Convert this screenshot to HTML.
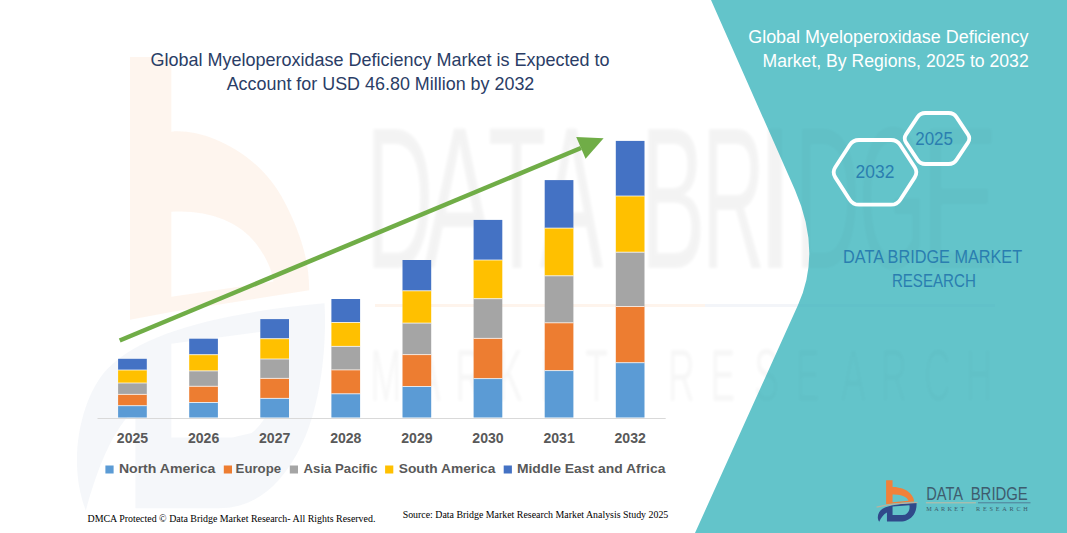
<!DOCTYPE html>
<html>
<head>
<meta charset="utf-8">
<style>
html,body{margin:0;padding:0;background:#fff;width:1067px;height:533px;overflow:hidden;}
svg{display:block;}
text{font-family:"Liberation Sans",sans-serif;}
.serif{font-family:"Liberation Serif",serif;}
</style>
</head>
<body>
<svg width="1067" height="533" viewBox="0 0 1067 533">
<defs>
<path id="lgOr" fill-rule="evenodd" d="M0,0 H6.46 V6.86 C11,6.5 20,8.5 24.15,13.3 C26.5,16 28,18.5 28,21.4 L6.46,23.4 L0,24.1 Z M6.46,14.2 C12,14 17,15 19.8,17.2 C21.2,18.3 22.2,19.5 22.4,20.6 L6.46,22 Z"/>
<path id="lgBl" fill-rule="evenodd" d="M-6.9,41.6 C-10,37 -7.5,31 -3.5,28.6 C2,25.2 15,23.4 30.4,22.6 C30.8,27 29.6,33 25.9,36.6 C23.5,39 20,41.4 13.8,41.4 L0.85,41.4 L0.85,32.3 C-2.5,34 -5,37.5 -6.9,41.6 Z M6.46,26.3 L23.3,25 C24,29 22.5,33 19,34.5 L16,34.9 L6.46,34.9 Z"/>
<path id="tealP" d="M711 0 L1067 0 L1067 533 L695 533 L798 305 Q822 252 795 190 Z"/>
<filter id="wmblur" x="-5%" y="-5%" width="110%" height="110%"><feGaussianBlur stdDeviation="1.6"/></filter>
<clipPath id="tealClip"><use href="#tealP"/></clipPath>
<path id="lgSw" fill="none" d="M-9.5,26.9 C2,24.2 15,22.8 31.5,22.2"/>
</defs>
<rect x="0" y="0" width="1067" height="533" fill="#ffffff"/>

<!-- watermark -->
<g opacity="1">
<g transform="translate(130,57) scale(6.4,10.9)">
<use href="#lgOr" fill="#F4A460" opacity="0.11"/>
<use href="#lgBl" fill="#3A5A98" opacity="0.05"/>
</g>
<g id="wmtext" filter="url(#wmblur)" fill="#000" opacity="0.045" font-size="202">
<text transform="translate(365.81,267.7) scale(0.464,1)">D</text>
<text transform="translate(423.79,267.7) scale(0.530,1)">A</text>
<text transform="translate(487.85,267.7) scale(0.473,1)">T</text>
<text transform="translate(539.81,267.7) scale(0.470,1)">A</text>
<text transform="translate(640.34,267.7) scale(0.486,1)">B</text>
<text transform="translate(701.82,267.7) scale(0.434,1)">R</text>
<text transform="translate(754.15,267.7) scale(0.743,1)">I</text>
<text transform="translate(794.52,267.7) scale(0.451,1)">D</text>
<text transform="translate(858.61,267.7) scale(0.432,1)">G</text>
<text transform="translate(920.31,267.7) scale(0.585,1)">E</text>
</g>
<g id="wmline"><rect x="375" y="304" width="330" height="3" fill="#F4A460" opacity="0.12"/>
<rect x="705" y="304" width="290" height="3" fill="#3A5A98" opacity="0.06"/></g>
<g id="wmtext2" filter="url(#wmblur)" fill="#000" opacity="0.03" font-size="74">
<text transform="translate(370.46,401) scale(0.500,1)">M</text>
<text transform="translate(415.93,401) scale(0.500,1)">A</text>
<text transform="translate(455.46,401) scale(0.500,1)">R</text>
<text transform="translate(497.96,401) scale(0.500,1)">K</text>
<text transform="translate(540.46,401) scale(0.500,1)">E</text>
<text transform="translate(585.17,401) scale(0.500,1)">T</text>
<text transform="translate(667.96,401) scale(0.500,1)">R</text>
<text transform="translate(710.46,401) scale(0.500,1)">E</text>
<text transform="translate(754.32,401) scale(0.500,1)">S</text>
<text transform="translate(795.46,401) scale(0.500,1)">E</text>
<text transform="translate(840.93,401) scale(0.500,1)">A</text>
<text transform="translate(880.46,401) scale(0.500,1)">R</text>
<text transform="translate(924.12,401) scale(0.500,1)">C</text>
<text transform="translate(965.46,401) scale(0.500,1)">H</text>
</g>
</g>

<!-- teal panel -->
<use href="#tealP" fill="#63C4CA"/>
<g clip-path="url(#tealClip)" opacity="0.45"><use href="#wmtext"/><use href="#wmtext2"/><use href="#wmline"/></g>
<!-- title -->
<g fill="#2A3D66" font-size="19">
<text x="380" y="66.4" text-anchor="middle" textLength="459" lengthAdjust="spacingAndGlyphs">Global Myeloperoxidase Deficiency Market is Expected to</text>
<text x="380.5" y="89.5" text-anchor="middle" textLength="307.7" lengthAdjust="spacingAndGlyphs">Account for USD 46.80 Million by 2032</text>
</g>

<!-- axis -->
<line x1="97.5" y1="418.5" x2="665.7" y2="418.5" stroke="#D9D9D9" stroke-width="1"/>

<!-- bars -->
<g id="bars">
<rect x="118.1" y="358.8" width="28.7" height="11.2" fill="#4472C4"/>
<rect x="118.1" y="370.0" width="28.7" height="13.0" fill="#FFC000"/>
<rect x="118.1" y="383.0" width="28.7" height="11.4" fill="#A5A5A5"/>
<rect x="118.1" y="394.4" width="28.7" height="11.3" fill="#ED7D31"/>
<rect x="118.1" y="405.7" width="28.7" height="11.8" fill="#5B9BD5"/>
<line x1="118.1" x2="146.8" y1="370.0" y2="370.0" stroke="#fff" stroke-width="0.9" stroke-opacity="0.8"/>
<line x1="118.1" x2="146.8" y1="383.0" y2="383.0" stroke="#fff" stroke-width="0.9" stroke-opacity="0.8"/>
<line x1="118.1" x2="146.8" y1="394.4" y2="394.4" stroke="#fff" stroke-width="0.9" stroke-opacity="0.8"/>
<line x1="118.1" x2="146.8" y1="405.7" y2="405.7" stroke="#fff" stroke-width="0.9" stroke-opacity="0.8"/>
<rect x="189.2" y="338.7" width="28.7" height="16.0" fill="#4472C4"/>
<rect x="189.2" y="354.7" width="28.7" height="16.2" fill="#FFC000"/>
<rect x="189.2" y="370.9" width="28.7" height="15.4" fill="#A5A5A5"/>
<rect x="189.2" y="386.3" width="28.7" height="16.2" fill="#ED7D31"/>
<rect x="189.2" y="402.5" width="28.7" height="15.0" fill="#5B9BD5"/>
<line x1="189.2" x2="217.9" y1="354.7" y2="354.7" stroke="#fff" stroke-width="0.9" stroke-opacity="0.8"/>
<line x1="189.2" x2="217.9" y1="370.9" y2="370.9" stroke="#fff" stroke-width="0.9" stroke-opacity="0.8"/>
<line x1="189.2" x2="217.9" y1="386.3" y2="386.3" stroke="#fff" stroke-width="0.9" stroke-opacity="0.8"/>
<line x1="189.2" x2="217.9" y1="402.5" y2="402.5" stroke="#fff" stroke-width="0.9" stroke-opacity="0.8"/>
<rect x="260.3" y="319.1" width="28.7" height="19.6" fill="#4472C4"/>
<rect x="260.3" y="338.7" width="28.7" height="20.3" fill="#FFC000"/>
<rect x="260.3" y="359.0" width="28.7" height="19.4" fill="#A5A5A5"/>
<rect x="260.3" y="378.4" width="28.7" height="20.0" fill="#ED7D31"/>
<rect x="260.3" y="398.4" width="28.7" height="19.1" fill="#5B9BD5"/>
<line x1="260.3" x2="289.0" y1="338.7" y2="338.7" stroke="#fff" stroke-width="0.9" stroke-opacity="0.8"/>
<line x1="260.3" x2="289.0" y1="359.0" y2="359.0" stroke="#fff" stroke-width="0.9" stroke-opacity="0.8"/>
<line x1="260.3" x2="289.0" y1="378.4" y2="378.4" stroke="#fff" stroke-width="0.9" stroke-opacity="0.8"/>
<line x1="260.3" x2="289.0" y1="398.4" y2="398.4" stroke="#fff" stroke-width="0.9" stroke-opacity="0.8"/>
<rect x="331.4" y="299.0" width="28.7" height="23.5" fill="#4472C4"/>
<rect x="331.4" y="322.5" width="28.7" height="23.9" fill="#FFC000"/>
<rect x="331.4" y="346.4" width="28.7" height="23.5" fill="#A5A5A5"/>
<rect x="331.4" y="369.9" width="28.7" height="23.9" fill="#ED7D31"/>
<rect x="331.4" y="393.8" width="28.7" height="23.7" fill="#5B9BD5"/>
<line x1="331.4" x2="360.1" y1="322.5" y2="322.5" stroke="#fff" stroke-width="0.9" stroke-opacity="0.8"/>
<line x1="331.4" x2="360.1" y1="346.4" y2="346.4" stroke="#fff" stroke-width="0.9" stroke-opacity="0.8"/>
<line x1="331.4" x2="360.1" y1="369.9" y2="369.9" stroke="#fff" stroke-width="0.9" stroke-opacity="0.8"/>
<line x1="331.4" x2="360.1" y1="393.8" y2="393.8" stroke="#fff" stroke-width="0.9" stroke-opacity="0.8"/>
<rect x="402.5" y="260.0" width="28.7" height="30.8" fill="#4472C4"/>
<rect x="402.5" y="290.8" width="28.7" height="32.3" fill="#FFC000"/>
<rect x="402.5" y="323.1" width="28.7" height="31.5" fill="#A5A5A5"/>
<rect x="402.5" y="354.6" width="28.7" height="31.9" fill="#ED7D31"/>
<rect x="402.5" y="386.5" width="28.7" height="31.0" fill="#5B9BD5"/>
<line x1="402.5" x2="431.2" y1="290.8" y2="290.8" stroke="#fff" stroke-width="0.9" stroke-opacity="0.8"/>
<line x1="402.5" x2="431.2" y1="323.1" y2="323.1" stroke="#fff" stroke-width="0.9" stroke-opacity="0.8"/>
<line x1="402.5" x2="431.2" y1="354.6" y2="354.6" stroke="#fff" stroke-width="0.9" stroke-opacity="0.8"/>
<line x1="402.5" x2="431.2" y1="386.5" y2="386.5" stroke="#fff" stroke-width="0.9" stroke-opacity="0.8"/>
<rect x="473.6" y="219.9" width="28.7" height="40.1" fill="#4472C4"/>
<rect x="473.6" y="260.0" width="28.7" height="38.7" fill="#FFC000"/>
<rect x="473.6" y="298.7" width="28.7" height="39.7" fill="#A5A5A5"/>
<rect x="473.6" y="338.4" width="28.7" height="40.2" fill="#ED7D31"/>
<rect x="473.6" y="378.6" width="28.7" height="38.9" fill="#5B9BD5"/>
<line x1="473.6" x2="502.3" y1="260.0" y2="260.0" stroke="#fff" stroke-width="0.9" stroke-opacity="0.8"/>
<line x1="473.6" x2="502.3" y1="298.7" y2="298.7" stroke="#fff" stroke-width="0.9" stroke-opacity="0.8"/>
<line x1="473.6" x2="502.3" y1="338.4" y2="338.4" stroke="#fff" stroke-width="0.9" stroke-opacity="0.8"/>
<line x1="473.6" x2="502.3" y1="378.6" y2="378.6" stroke="#fff" stroke-width="0.9" stroke-opacity="0.8"/>
<rect x="544.7" y="180.1" width="28.7" height="48.0" fill="#4472C4"/>
<rect x="544.7" y="228.1" width="28.7" height="47.7" fill="#FFC000"/>
<rect x="544.7" y="275.8" width="28.7" height="47.0" fill="#A5A5A5"/>
<rect x="544.7" y="322.8" width="28.7" height="47.8" fill="#ED7D31"/>
<rect x="544.7" y="370.6" width="28.7" height="46.9" fill="#5B9BD5"/>
<line x1="544.7" x2="573.4" y1="228.1" y2="228.1" stroke="#fff" stroke-width="0.9" stroke-opacity="0.8"/>
<line x1="544.7" x2="573.4" y1="275.8" y2="275.8" stroke="#fff" stroke-width="0.9" stroke-opacity="0.8"/>
<line x1="544.7" x2="573.4" y1="322.8" y2="322.8" stroke="#fff" stroke-width="0.9" stroke-opacity="0.8"/>
<line x1="544.7" x2="573.4" y1="370.6" y2="370.6" stroke="#fff" stroke-width="0.9" stroke-opacity="0.8"/>
<rect x="615.8" y="140.9" width="28.7" height="55.1" fill="#4472C4"/>
<rect x="615.8" y="196.0" width="28.7" height="56.2" fill="#FFC000"/>
<rect x="615.8" y="252.2" width="28.7" height="54.3" fill="#A5A5A5"/>
<rect x="615.8" y="306.5" width="28.7" height="56.2" fill="#ED7D31"/>
<rect x="615.8" y="362.7" width="28.7" height="54.8" fill="#5B9BD5"/>
<line x1="615.8" x2="644.5" y1="196.0" y2="196.0" stroke="#fff" stroke-width="0.9" stroke-opacity="0.8"/>
<line x1="615.8" x2="644.5" y1="252.2" y2="252.2" stroke="#fff" stroke-width="0.9" stroke-opacity="0.8"/>
<line x1="615.8" x2="644.5" y1="306.5" y2="306.5" stroke="#fff" stroke-width="0.9" stroke-opacity="0.8"/>
<line x1="615.8" x2="644.5" y1="362.7" y2="362.7" stroke="#fff" stroke-width="0.9" stroke-opacity="0.8"/>
</g>

<!-- arrow -->
<line x1="119.7" y1="340.5" x2="581" y2="148" stroke="#70AD47" stroke-width="4.6"/>
<polygon points="576.2,137.1 603.6,138.2 585.6,158.8" fill="#70AD47"/>

<!-- year labels -->
<g fill="#595959" font-size="14" font-weight="bold" text-anchor="middle">
<text x="132.5" y="443.2" textLength="31.3" lengthAdjust="spacingAndGlyphs">2025</text>
<text x="203.6" y="443.2" textLength="31.3" lengthAdjust="spacingAndGlyphs">2026</text>
<text x="274.7" y="443.2" textLength="31.3" lengthAdjust="spacingAndGlyphs">2027</text>
<text x="345.8" y="443.2" textLength="31.3" lengthAdjust="spacingAndGlyphs">2028</text>
<text x="416.9" y="443.2" textLength="31.3" lengthAdjust="spacingAndGlyphs">2029</text>
<text x="488.0" y="443.2" textLength="31.3" lengthAdjust="spacingAndGlyphs">2030</text>
<text x="559.1" y="443.2" textLength="31.3" lengthAdjust="spacingAndGlyphs">2031</text>
<text x="630.2" y="443.2" textLength="31.3" lengthAdjust="spacingAndGlyphs">2032</text>
</g>

<!-- legend -->
<g font-size="13.5" font-weight="bold" fill="#595959">
<rect x="105.4" y="465.5" width="8.2" height="8" fill="#5B9BD5"/>
<text x="118.9" y="473" textLength="96.4" lengthAdjust="spacingAndGlyphs">North America</text>
<rect x="223.8" y="465.5" width="8.2" height="8" fill="#ED7D31"/>
<text x="235.6" y="473" textLength="45.5" lengthAdjust="spacingAndGlyphs">Europe</text>
<rect x="289.8" y="465.5" width="8.2" height="8" fill="#A5A5A5"/>
<text x="303.6" y="473" textLength="73.9" lengthAdjust="spacingAndGlyphs">Asia Pacific</text>
<rect x="385.1" y="465.5" width="8.2" height="8" fill="#FFC000"/>
<text x="398.8" y="473" textLength="96.5" lengthAdjust="spacingAndGlyphs">South America</text>
<rect x="503.7" y="465.5" width="8.2" height="8" fill="#4472C4"/>
<text x="516.9" y="473" textLength="148.5" lengthAdjust="spacingAndGlyphs">Middle East and Africa</text>
</g>

<!-- footers -->
<g class="serif" fill="#000" font-size="11">
<text class="serif" x="87.5" y="521.7" textLength="287.9" lengthAdjust="spacingAndGlyphs">DMCA Protected © Data Bridge Market Research-  All Rights Reserved.</text>
<text class="serif" x="402.7" y="517.7" textLength="265.6" lengthAdjust="spacingAndGlyphs">Source: Data Bridge Market Research  Market Analysis Study 2025</text>
</g>

<!-- right title -->
<g fill="#ffffff" font-size="17.5" text-anchor="end">
<text x="1028.5" y="43" textLength="280.3" lengthAdjust="spacingAndGlyphs">Global Myeloperoxidase Deficiency</text>
<text x="1028.7" y="66.9" textLength="266.2" lengthAdjust="spacingAndGlyphs">Market, By Regions, 2025 to 2032</text>
</g>

<!-- hexagons -->
<g id="hex" fill="none" stroke="#ffffff" stroke-width="3.8">
<path d="M835.27,167.32 L849.73,145.03 Q853.00,140.00 859.00,140.00 L891.00,140.00 Q897.00,140.00 900.27,145.03 L914.73,167.32 Q918.00,172.35 914.73,177.38 L900.27,199.67 Q897.00,204.70 891.00,204.70 L859.00,204.70 Q853.00,204.70 849.73,199.67 L835.27,177.38 Q832.00,172.35 835.27,167.32 Z"/>
<path d="M906.07,134.34 L917.53,117.16 Q920.30,113.00 925.30,113.00 L948.70,113.00 Q953.70,113.00 956.47,117.16 L967.93,134.34 Q970.70,138.50 967.93,142.66 L956.47,159.84 Q953.70,164.00 948.70,164.00 L925.30,164.00 Q920.30,164.00 917.53,159.84 L906.07,142.66 Q903.30,138.50 906.07,134.34 Z"/>
</g>
<g fill="#2A7EB0">
<text x="855.6" y="177.6" font-size="18" textLength="38.8" lengthAdjust="spacingAndGlyphs">2032</text>
<text x="915.2" y="145.4" font-size="18.3" textLength="37.8" lengthAdjust="spacingAndGlyphs">2025</text>
</g>

<g fill="#2A7EB0" font-size="18.3">
<text x="843.1" y="262.7" textLength="179" lengthAdjust="spacingAndGlyphs">DATA BRIDGE MARKET</text>
<text x="891.9" y="286.5" textLength="83.9" lengthAdjust="spacingAndGlyphs">RESEARCH</text>
</g>

<!-- logo -->
<g id="logo">
<g transform="translate(886.1,480.2)">
<use href="#lgOr" fill="#F0813A"/>
<use href="#lgBl" fill="#30498A"/>
<use href="#lgSw" stroke="#B9B29E" stroke-width="1.3"/>
</g>
<text x="926.3" y="499.6" font-size="18.3" fill="#3E5C6E" textLength="36.8" lengthAdjust="spacingAndGlyphs">DATA</text>
<text x="970.7" y="499.6" font-size="18.3" fill="#3E5C6E" textLength="57.1" lengthAdjust="spacingAndGlyphs">BRIDGE</text>
<rect x="925.9" y="502.3" width="50" height="1" fill="#C4BCA6"/>
<rect x="978" y="502.3" width="52.5" height="1" fill="#4F7E98"/>
<text x="926.3" y="511.4" font-size="6.2" fill="#3B5A6B" font-family="Liberation Serif" style="font-family:'Liberation Serif',serif" textLength="38" lengthAdjust="spacing">MARKET</text>
<text x="976" y="511.4" font-size="6.2" fill="#3B5A6B" style="font-family:'Liberation Serif',serif" textLength="51.8" lengthAdjust="spacing">RESEARCH</text>
</g>
</svg>
</body>
</html>
